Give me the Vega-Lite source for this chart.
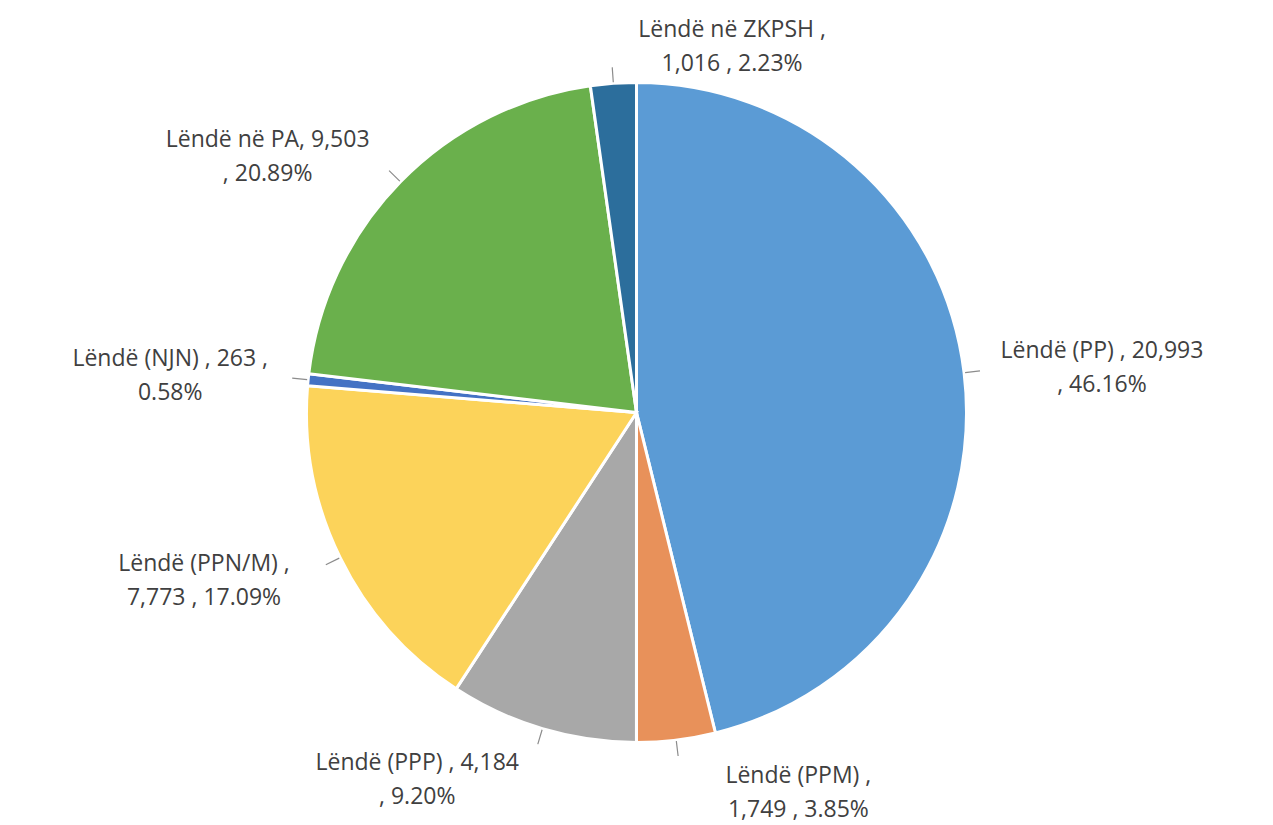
{
  "$schema": "https://vega.github.io/schema/vega-lite/v6.json",
  "width": 1273,
  "height": 825,
  "autosize": {"type": "fit", "contains": "padding"},
  "padding": 0,
  "background": "white",
  "config": {"view": {"stroke": null}},
  "data": {
    "values": [
      {"order": 1, "category": "Lëndë (PP)", "value": 20993, "label": "Lëndë (PP) ,  20,993\n, 46.16%"},
      {"order": 2, "category": "Lëndë (PPM)", "value": 1749, "label": "Lëndë (PPM) ,\n1,749 , 3.85%"},
      {"order": 3, "category": "Lëndë (PPP)", "value": 4184, "label": "Lëndë (PPP) ,  4,184\n, 9.20%"},
      {"order": 4, "category": "Lëndë (PPN/M)", "value": 7773, "label": "Lëndë (PPN/M) ,\n7,773 , 17.09%"},
      {"order": 5, "category": "Lëndë (NJN)", "value": 263, "label": "Lëndë (NJN) ,  263 ,\n0.58%"},
      {"order": 6, "category": "Lëndë në PA", "value": 9503, "label": "Lëndë në PA,  9,503\n, 20.89%"},
      {"order": 7, "category": "Lëndë në ZKPSH", "value": 1016, "label": "Lëndë në ZKPSH ,\n1,016 , 2.23%"}
    ]
  },
  "encoding": {
    "theta": {"field": "value", "type": "quantitative", "stack": true},
    "order": {"field": "order", "type": "ordinal"}
  },
  "layer": [
    {
      "mark": {"type": "arc", "outerRadius": 330, "stroke": "white", "strokeWidth": 3},
      "encoding": {
        "color": {
          "field": "category",
          "type": "nominal",
          "legend": null,
          "scale": {
            "domain": ["Lëndë (PP)", "Lëndë (PPM)", "Lëndë (PPP)", "Lëndë (PPN/M)", "Lëndë (NJN)", "Lëndë në PA", "Lëndë në ZKPSH"],
            "range": ["#5B9BD5", "#E8915A", "#A8A8A8", "#FCD35A", "#4472C4", "#6AB04C", "#2C6E9C"]
          }
        }
      }
    },
    {
      "mark": {"type": "arc", "innerRadius": 331, "outerRadius": 346, "padAngle": 3.14, "filled": false, "stroke": "#8c8c8c", "strokeWidth": 1.2}
    },
    {
      "mark": {
        "type": "text",
        "radius": 348,
        "font": "Open Sans",
        "fontSize": 23,
        "color": "#404040",
        "lineBreak": "\n",
        "lineHeight": 34,
        "align": "center",
        "baseline": "middle",
        "dx": {"expr": "sin(PI * (datum.value_start + datum.value_end) / 45481) >= -0.1 ? 120 : -120"},
        "dy": {"expr": "cos(PI * (datum.value_start + datum.value_end) / 45481) < 0 ? -17 - 35 * cos(PI * (datum.value_start + datum.value_end) / 45481) : -17 - 18 * cos(PI * (datum.value_start + datum.value_end) / 45481)"}
      },
      "encoding": {
        "text": {"field": "label", "type": "nominal"}
      }
    }
  ]
}
